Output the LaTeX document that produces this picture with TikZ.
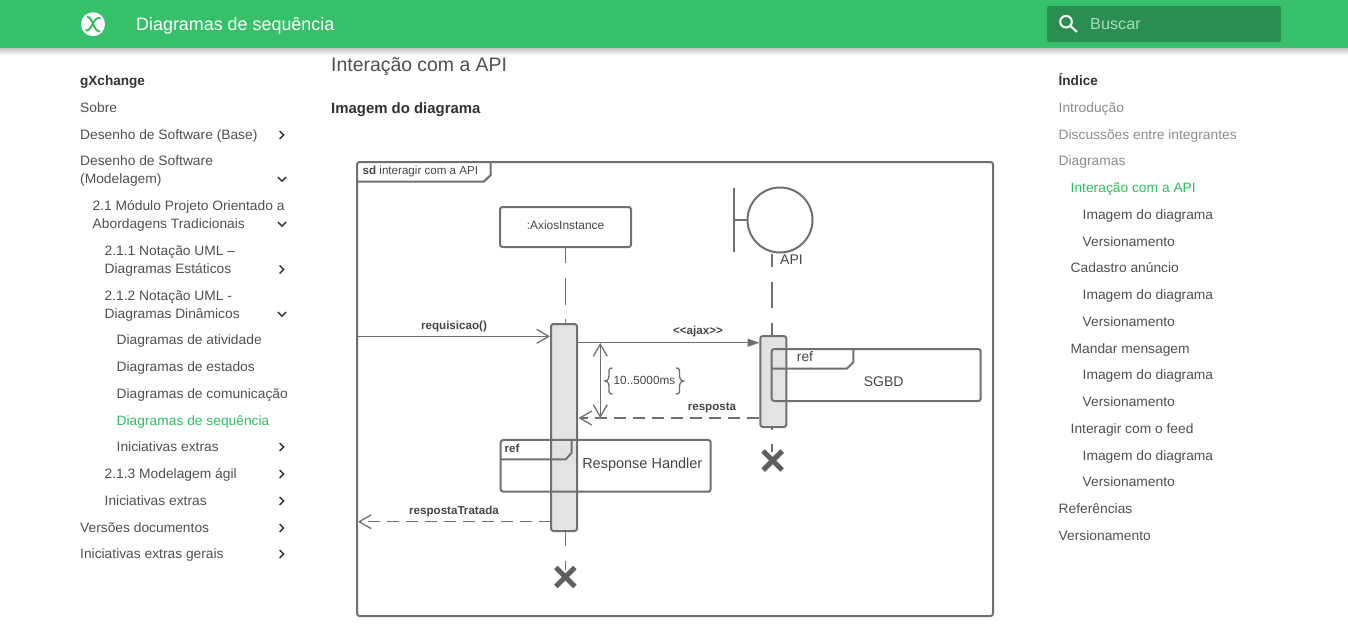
\documentclass[tikz,border=0pt]{standalone}
\usepackage{fontspec}
\setmainfont{Liberation Sans}[Ligatures=NoCommon]
\newfontfamily\uif{Liberation Sans}[FakeStretch=1.015]
\newfontfamily\titlef{Liberation Sans}[FakeStretch=0.995]
\usetikzlibrary{arrows.meta,calc}
\definecolor{hdr}{RGB}{55,192,106}
\definecolor{srch}{RGB}{42,142,80}
\definecolor{srchtxt}{RGB}{172,220,190}
\definecolor{linkg}{RGB}{47,191,98}
\definecolor{sidec}{RGB}{80,80,80}
\definecolor{darkc}{RGB}{50,50,50}
\definecolor{mutedc}{RGB}{140,140,140}
\definecolor{dgl}{RGB}{112,112,112}
\definecolor{dgt}{RGB}{70,70,70}
\definecolor{actf}{RGB}{227,227,227}
\tikzset{
 x=1pt,y=-1pt,
 sidetxt/.style={anchor=base west,inner sep=0pt,text=sidec,font=\uif\fontsize{13.6}{16}\selectfont},
 boldtxt/.style={sidetxt,text=darkc,font=\titlef\bfseries\fontsize{13.6}{16}\selectfont},
 mutedtxt/.style={sidetxt,text=mutedc},
 greentxt/.style={sidetxt,text=linkg},
 chev/.style={draw=darkc,line width=1.4pt,line cap=butt},
 dline/.style={draw=dgl,line width=2pt},
 thin line/.style={draw=dgl,line width=1.3pt},
 lifeA/.style={thin line,dash pattern=on 27pt off 14.5pt,dash phase=12pt},
 lifeB/.style={thin line,dash pattern=on 25.5pt off 15pt,dash phase=12.5pt},
 msgdash/.style={thin line,dash pattern=on 12pt off 7pt},
 openhead/.style={-{Straight Barb[length=12pt,width=14pt,line width=1.3pt]}},
 act/.style={draw=dgl,fill=actf,line width=2pt,rounded corners=2.5pt,inner sep=0pt,minimum width=26pt},
 obj/.style={draw=dgl,line width=2pt,rounded corners=2.5pt,inner sep=0pt},
 lbl/.style={inner sep=0pt,text=dgt,font=\fontsize{11.9}{14}\selectfont},
 msglbl/.style={inner sep=0pt,text=dgt,font=\bfseries\fontsize{11.6}{14}\selectfont},
 biglbl/.style={inner sep=0pt,text=dgt,font=\fontsize{14.5}{17}\selectfont},
 killx/.style={draw=dgl!85!black,line width=5pt},
}
\newcommand{\chevR}[2]{\draw[chev] (#1-2.4,#2-4) -- (#1+1.6,#2) -- (#1-2.4,#2+4);}
\newcommand{\chevD}[2]{\draw[chev] (#1-4.2,#2-2) -- (#1,#2+2.2) -- (#1+4.2,#2-2);}
\begin{document}
\begin{tikzpicture}
\useasboundingbox (0,0) rectangle (1348,624);
\fill[white] (0,0) rectangle (1348,624);
% header
\shade[top color=black!24,bottom color=white] (0,48) rectangle (1348,55);
\fill[hdr] (0,0) rectangle (1348,48);
\fill[white] (93,24.2) circle[radius=12];
\draw[hdr,line width=2pt] (87,17) .. controls (93,16) and (93,32) .. (100,31.5);
\draw[hdr,line width=2pt] (85.5,30) .. controls (91,34) and (94,14) .. (100.5,18.5);
\node[anchor=base west,inner sep=0pt,text=white,font=\titlef\fontsize{18}{22}\selectfont] (title) at (136,30) {Diagramas de sequência};
\fill[srch,rounded corners=1.5pt] (1047,6) rectangle (1281,42);
\draw[white,line width=2pt] (1066,21.7) circle[radius=5.8];
\draw[white,line width=2pt] (1070.5,26) -- (1077,32);
\node[anchor=base west,inner sep=0pt,text=srchtxt,font=\uif\fontsize{16}{20}\selectfont] (buscar) at (1090,29.5) {Buscar};
% left nav
\node[boldtxt] (l1) at (80,85.2) {gXchange};
\node[sidetxt] (l2) at (80,112.2) {Sobre};
\node[sidetxt] (l3) at (80,139.2) {Desenho de Software (Base)};\chevR{282}{135}
\node[sidetxt] (l4) at (80,165.2) {Desenho de Software};
\node[sidetxt] (l4b) at (80,183.2) {(Modelagem)};\chevD{282}{179}
\node[sidetxt] (l5) at (92.5,210.2) {2.1 Módulo Projeto Orientado a};
\node[sidetxt] (l5b) at (92.5,228.2) {Abordagens Tradicionais};\chevD{282}{224}
\node[sidetxt] (l6) at (104.5,255.2) {2.1.1 Notação UML –};
\node[sidetxt] (l6b) at (104.5,273.2) {Diagramas Estáticos};\chevR{282}{269.5}
\node[sidetxt] (l7) at (104.5,300.2) {2.1.2 Notação UML -};
\node[sidetxt] (l7b) at (104.5,318.2) {Diagramas Dinâmicos};\chevD{282}{314}
\node[sidetxt] (l8) at (116.5,344.2) {Diagramas de atividade};
\node[sidetxt] (l9) at (116.5,371.2) {Diagramas de estados};
\node[sidetxt] (l10) at (116.5,398.2) {Diagramas de comunicação};
\node[greentxt] (l11) at (116.5,425.2) {Diagramas de sequência};
\node[sidetxt] (l12) at (116.5,451.2) {Iniciativas extras};\chevR{282}{447}
\node[sidetxt] (l13) at (104.5,478.2) {2.1.3 Modelagem ágil};\chevR{282}{474}
\node[sidetxt] (l14) at (104.5,505.2) {Iniciativas extras};\chevR{282}{501}
\node[sidetxt] (l15) at (80,532.2) {Versões documentos};\chevR{282}{528}
\node[sidetxt] (l16) at (80,558.2) {Iniciativas extras gerais};\chevR{282}{554}
% right toc
\node[boldtxt] (r1) at (1058.5,85.2) {Índice};
\node[mutedtxt] (r2) at (1058.5,112.2) {Introdução};
\node[mutedtxt] (r3) at (1058.5,139.2) {Discussões entre integrantes};
\node[mutedtxt] (r4) at (1058.5,165.2) {Diagramas};
\node[greentxt] (r5) at (1070.5,192.2) {Interação com a API};
\node[sidetxt] (r6) at (1082.5,219.2) {Imagem do diagrama};
\node[sidetxt] (r7) at (1082.5,246.2) {Versionamento};
\node[sidetxt] (r8) at (1070.5,272.2) {Cadastro anúncio};
\node[sidetxt] (r9) at (1082.5,299.2) {Imagem do diagrama};
\node[sidetxt] (r10) at (1082.5,326.2) {Versionamento};
\node[sidetxt] (r11) at (1070.5,353.2) {Mandar mensagem};
\node[sidetxt] (r12) at (1082.5,379.2) {Imagem do diagrama};
\node[sidetxt] (r13) at (1082.5,406.2) {Versionamento};
\node[sidetxt] (r14) at (1070.5,433.2) {Interagir com o feed};
\node[sidetxt] (r15) at (1082.5,460.2) {Imagem do diagrama};
\node[sidetxt] (r16) at (1082.5,486.2) {Versionamento};
\node[sidetxt] (r17) at (1058.5,513.2) {Referências};
\node[sidetxt] (r18) at (1058.5,540.2) {Versionamento};
% page headings
\node[anchor=base west,inner sep=0pt,text=sidec,font=\titlef\fontsize{19.5}{24}\selectfont] (h1) at (331,71) {Interação com a API};
\node[anchor=base west,inner sep=0pt,text=darkc,font=\titlef\bfseries\fontsize{15}{20}\selectfont] (h2) at (331,113) {Imagem do diagrama};
% frame
\node[obj,minimum width=636pt,minimum height=454pt] (frame) at (675,389) {};
\coordinate (tabA) at (357,181.5);\coordinate (tabB) at (484,181.5);\coordinate (tabC) at (490.7,175);\coordinate (tabD) at (490.7,162);
\draw[dline] (tabA) -- (tabB) -- (tabC) -- (tabD);
\node[anchor=base west,inner sep=0pt,text=dgt,font=\fontsize{11.6}{13}\selectfont] (sdlabel) at (362.5,174) {\textbf{sd} interagir com a API};
% objects
\node[obj,minimum width=131pt,minimum height=40pt] (axios) at (565.5,227) {};
\node[lbl] (axiostxt) at (565.5,225) {:AxiosInstance};
\node[draw=dgl,line width=2pt,circle,minimum size=65pt,inner sep=0pt] (api) at (780,220) {};
\coordinate (barT) at (734,188);\coordinate (barB) at (734,252);\coordinate (barM) at (734,220);
\draw[dline] (barT) -- (barB);
\draw[dline] (barM) -- (api.west);
\node[inner sep=0pt,text=dgt,font=\fontsize{14}{16}\selectfont] (apitxt) at (791.5,259.5) {API};
% activations
\node[act,minimum height=207pt] (actA) at (564,427.5) {};
\node[act,minimum height=91pt] (actB) at (773.3,381.5) {};
% lifelines
\coordinate (lifeBtop) at (772,254);
\coordinate (lifeBend) at (772,336);
\draw[lifeA] (axios.south) -- (565.5,324);
\draw[lifeB] (lifeBtop) -- (lifeBend);
\coordinate (killAtop) at (565.5,532);\coordinate (killAbot) at (565.5,570);
\draw[lifeA,dash pattern=on 14pt off 15pt on 30pt,dash phase=0pt] (killAtop) -- (killAbot);
\coordinate (killBtop) at (772,428);\coordinate (killBbot) at (772,452);
\draw[lifeA,dash pattern=on 2pt off 14pt on 30pt,dash phase=0pt] (killBtop) -- (killBbot);
% destroy marks
\coordinate (xA) at (565.3,577);\coordinate (xB) at (772.7,460.5);
\draw[killx] ($(xA)+(-9.5,-9.5)$) -- ($(xA)+(9.5,9.5)$) ($(xA)+(9.5,-9.5)$) -- ($(xA)+(-9.5,9.5)$);
\draw[killx] ($(xB)+(-9.5,-9.5)$) -- ($(xB)+(9.5,9.5)$) ($(xB)+(9.5,-9.5)$) -- ($(xB)+(-9.5,9.5)$);
% ref boxes
\node[obj,minimum width=209pt,minimum height=52pt] (sgbd) at (876.2,375) {};
\coordinate (sa) at (771.7,368.7);\coordinate (sb) at (846.7,368.7);\coordinate (sc) at (853.3,362.3);\coordinate (sd) at (853.3,349);
\draw[dline] (sa) -- (sb) -- (sc) -- (sd);
\node[inner sep=0pt,text=dgt,font=\fontsize{13.8}{16}\selectfont] (sgbdref) at (805,357) {ref};
\node[inner sep=0pt,text=dgt,font=\fontsize{14}{17}\selectfont] (sgbdtxt) at (883.7,381.7) {SGBD};
\node[obj,minimum width=210pt,minimum height=51.7pt] (rh) at (605.7,465.8) {};
\coordinate (ra) at (500.7,459.3);\coordinate (rb) at (565.7,459.3);\coordinate (rc) at (571.7,452.7);\coordinate (rd) at (571.7,440);
\draw[dline] (ra) -- (rb) -- (rc) -- (rd);
\node[inner sep=0pt,text=dgt,font=\bfseries\fontsize{11.5}{14}\selectfont] (rhref) at (512,448) {ref};
\node[biglbl] (rhtxt) at (642.3,465) {Response Handler};
% messages
\coordinate (reqS) at (357,336.3);\coordinate (reqE) at (550,336.3);
\draw[thin line,openhead] (reqS) -- (reqE);
\node[msglbl] (reqtxt) at (454,326) {requisicao()};
\coordinate (ajS) at (577,342.7);\coordinate (ajE) at (759.5,342.7);
\draw[thin line,-{Triangle[length=12pt,width=8pt]},dgl] (ajS) -- (ajE);
\node[msglbl] (ajtxt) at (698,331.7) {<{}<ajax>{}>};
\coordinate (reS) at (759,418);\coordinate (reE) at (578.5,418);
\draw[msgdash,openhead] (reS) -- (reE);
\node[msglbl] (retxt) at (712,407.5) {resposta};
\coordinate (ttS) at (551,521.7);\coordinate (ttE) at (358,521.7);
\draw[msgdash,openhead] (ttS) -- (ttE);
\node[msglbl] (tttxt) at (454,511) {respostaTratada};
% duration
\coordinate (duT) at (600.3,343);\coordinate (duB) at (600.3,418);
\draw[thin line,{Straight Barb[length=12pt,width=14pt,line width=1.3pt]}-{Straight Barb[length=12pt,width=14pt,line width=1.3pt]}] (duT) -- (duB);
\node[inner sep=0pt,text=dgt,font=\fontsize{11.8}{14}\selectfont] (dutxt) at (644.5,380) {10..5000ms};
\coordinate (bl) at (612.5,368);
\draw[thin line] (bl) .. controls ($(bl)+(-4,0)$) and ($(bl)+(-3.5,2)$) .. ($(bl)+(-3.5,6)$)
 .. controls ($(bl)+(-3.5,10)$) and ($(bl)+(-4,12.5)$) .. ($(bl)+(-7.5,13)$)
 .. controls ($(bl)+(-4,13.5)$) and ($(bl)+(-3.5,16)$) .. ($(bl)+(-3.5,20)$)
 .. controls ($(bl)+(-3.5,24)$) and ($(bl)+(-4,26)$) .. ($(bl)+(0,26)$);
\coordinate (br) at (676,368);
\draw[thin line] (br) .. controls ($(br)+(4,0)$) and ($(br)+(3.5,2)$) .. ($(br)+(3.5,6)$)
 .. controls ($(br)+(3.5,10)$) and ($(br)+(4,12.5)$) .. ($(br)+(7.5,13)$)
 .. controls ($(br)+(4,13.5)$) and ($(br)+(3.5,16)$) .. ($(br)+(3.5,20)$)
 .. controls ($(br)+(3.5,24)$) and ($(br)+(4,26)$) .. ($(br)+(0,26)$);
\end{tikzpicture}
\end{document}
